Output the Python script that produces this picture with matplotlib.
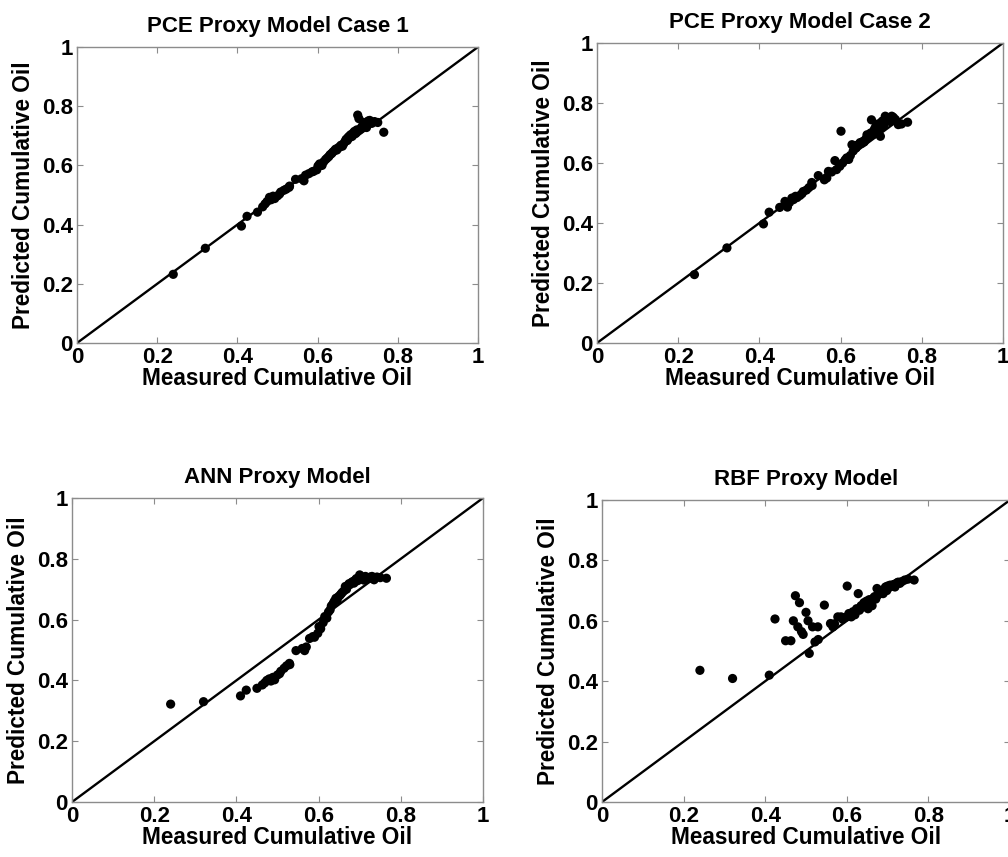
import matplotlib
matplotlib.use('Agg')
import matplotlib.pyplot as plt
import numpy as np

plt.rcParams['font.family'] = ['Liberation Sans', 'DejaVu Sans']
plt.rcParams['font.weight'] = 'bold'

# measured cumulative oil (normalised), shared by all proxy models
measured = [0.240, 0.320, 0.410, 0.424, 0.450, 0.463, 0.469, 0.474, 0.480, 0.484,
            0.489, 0.493, 0.500, 0.505, 0.508, 0.516, 0.522, 0.529, 0.530, 0.545,
            0.560, 0.566, 0.570, 0.578, 0.586, 0.590, 0.598, 0.601, 0.605, 0.611,
            0.615, 0.620, 0.624, 0.628, 0.631, 0.635, 0.638, 0.642, 0.645, 0.648,
            0.652, 0.655, 0.658, 0.662, 0.665, 0.668, 0.671, 0.674, 0.676, 0.680,
            0.683, 0.686, 0.689, 0.692, 0.695, 0.698, 0.700, 0.703, 0.706, 0.710,
            0.714, 0.718, 0.722, 0.726, 0.730, 0.735, 0.742, 0.750, 0.765]

pce_case1 = [0.232, 0.320, 0.395, 0.428, 0.442, 0.460, 0.470, 0.478, 0.492, 0.484,
             0.496, 0.488, 0.497, 0.503, 0.510, 0.516, 0.520, 0.526, 0.530, 0.553,
             0.555, 0.548, 0.567, 0.572, 0.578, 0.580, 0.585, 0.598, 0.605, 0.600,
             0.612, 0.620, 0.625, 0.630, 0.636, 0.640, 0.645, 0.650, 0.655, 0.652,
             0.660, 0.662, 0.668, 0.665, 0.673, 0.680, 0.688, 0.684, 0.695, 0.700,
             0.704, 0.698, 0.710, 0.715, 0.708, 0.720, 0.770, 0.758, 0.722, 0.730,
             0.745, 0.735, 0.728, 0.750, 0.752, 0.742, 0.748, 0.745, 0.712]

pce_case2 = [0.228, 0.317, 0.397, 0.436, 0.452, 0.472, 0.453, 0.468, 0.483, 0.478,
             0.489, 0.485, 0.492, 0.498, 0.505, 0.510, 0.518, 0.535, 0.525, 0.558,
             0.544, 0.550, 0.572, 0.570, 0.608, 0.578, 0.589, 0.706, 0.600, 0.610,
             0.617, 0.612, 0.625, 0.661, 0.640, 0.655, 0.650, 0.660, 0.662, 0.668,
             0.665, 0.672, 0.670, 0.680, 0.694, 0.685, 0.690, 0.700, 0.744, 0.695,
             0.712, 0.720, 0.705, 0.730, 0.711, 0.689, 0.735, 0.740, 0.725, 0.756,
             0.745, 0.750, 0.738, 0.756, 0.752, 0.745, 0.728, 0.730, 0.736]

ann = [0.322, 0.330, 0.349, 0.368, 0.374, 0.385, 0.392, 0.400, 0.405, 0.398,
       0.410, 0.402, 0.418, 0.422, 0.430, 0.440, 0.448, 0.456, 0.452, 0.498,
       0.505, 0.498, 0.510, 0.538, 0.544, 0.542, 0.555, 0.577, 0.570, 0.590,
       0.610, 0.605, 0.625, 0.632, 0.645, 0.652, 0.660, 0.670, 0.665, 0.675,
       0.680, 0.685, 0.690, 0.695, 0.709, 0.700, 0.712, 0.718, 0.715, 0.722,
       0.725, 0.720, 0.730, 0.735, 0.728, 0.738, 0.747, 0.735, 0.740, 0.730,
       0.742, 0.738, 0.735, 0.740, 0.742, 0.731, 0.740, 0.738, 0.736]

rbf = [0.436, 0.409, 0.420, 0.606, 0.534, 0.534, 0.600, 0.683, 0.580, 0.660,
       0.564, 0.555, 0.628, 0.600, 0.492, 0.580, 0.530, 0.580, 0.538, 0.652,
       0.591, 0.580, 0.590, 0.613, 0.613, 0.605, 0.612, 0.715, 0.624, 0.613,
       0.630, 0.620, 0.640, 0.690, 0.635, 0.650, 0.645, 0.660, 0.655, 0.665,
       0.640, 0.670, 0.665, 0.650, 0.675, 0.680, 0.672, 0.707, 0.685, 0.690,
       0.695, 0.700, 0.690, 0.705, 0.712, 0.700, 0.715, 0.710, 0.718, 0.715,
       0.720, 0.712, 0.725, 0.728, 0.724, 0.730, 0.735, 0.738, 0.735]

titles = ['PCE Proxy Model Case 1', 'PCE Proxy Model Case 2',
          'ANN Proxy Model', 'RBF Proxy Model']
predicted = [pce_case1, pce_case2, ann, rbf]

W, H = 1008., 857.
# axes boxes in pixels: left, top, right, bottom
boxes = [(77, 47, 478, 343),
         (597, 43, 1003, 343),
         (72, 498, 483, 802),
         (602, 500, 1010, 802)]

fig = plt.figure(figsize=(W / 100, H / 100), dpi=100)

ticks = [0, 0.2, 0.4, 0.6, 0.8, 1]
ticklabels = ['0', '0.2', '0.4', '0.6', '0.8', '1']

for (l, t, r, b), title, pred in zip(boxes, titles, predicted):
    ax = fig.add_axes([l / W, 1 - b / H, (r - l) / W, (b - t) / H])
    ax.plot([0, 1], [0, 1], color='black', lw=1.7, zorder=2)
    ax.scatter(measured, pred, s=44, color='black', edgecolors='none', zorder=3)
    ax.set_xlim(0, 1)
    ax.set_ylim(0, 1)
    ax.set_xticks(ticks)
    ax.set_yticks(ticks)
    ax.set_xticklabels(ticklabels)
    ax.set_yticklabels(ticklabels)
    for sp in ax.spines.values():
        sp.set_color('#8c8c8c')
        sp.set_linewidth(1.0)
    ax.tick_params(direction='in', length=4, width=0.8, color='#8c8c8c',
                   top=True, right=True, labelsize=16, pad=3)
    for lab in ax.get_xticklabels() + ax.get_yticklabels():
        lab.set_fontweight('bold')
    ax.set_xlabel('Measured Cumulative Oil', fontsize=16.3, fontweight='bold', labelpad=-1)
    ax.set_ylabel('Predicted Cumulative Oil', fontsize=16.3, fontweight='bold', labelpad=5)
    ax.set_title(title, fontsize=16, fontweight='bold', pad=11)

fig.savefig('out.png', dpi=100)
